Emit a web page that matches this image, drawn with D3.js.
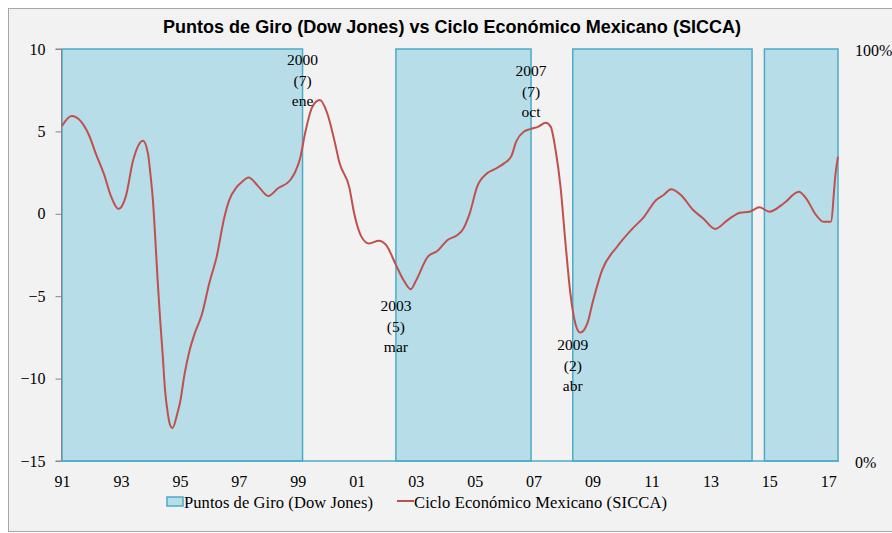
<!DOCTYPE html>
<html>
<head>
<meta charset="utf-8">
<script src="https://cdn.jsdelivr.net/npm/d3@7"></script>
<style>
	body { margin: 0; background: #fff; }
	text { font-family: "Liberation Serif", "Times New Roman", serif; fill: #000; }
</style>
</head>
<body>
<svg class="chart"></svg>
<script>
var cycleDates = ["1991-01","1991-05","1991-12","1992-03","1992-06","1992-09","1992-12","1993-03","1993-06","1993-10",
	"1993-12","1994-01","1994-02","1994-03","1994-04","1994-05","1994-06","1994-07","1994-08","1994-09",
	"1994-10","1994-12","1995-01","1995-03","1995-05","1995-07","1995-10","1996-01","1996-04","1996-07",
	"1996-09","1996-12","1997-02","1997-05","1997-09","1998-01","1998-05","1998-10","1998-12","1999-02",
	"1999-04","1999-07","1999-10","2000-01","2000-04","2000-06","2000-10","2000-12","2001-03","2001-06",
	"2001-10","2002-01","2002-05","2002-08","2002-11","2003-01","2003-06","2003-10","2004-02","2004-06",
	"2004-08","2004-11","2005-02","2005-06","2005-09","2006-01","2006-04","2006-06","2006-09","2006-12",
	"2007-03","2007-06","2007-08","2007-10","2007-12","2008-02","2008-04","2008-06","2008-08","2008-11",
	"2009-01","2009-05","2009-11","2010-05","2010-10","2011-03","2011-06","2011-09","2012-01","2012-06",
	"2012-10","2013-03","2013-08","2014-01","2014-05","2014-09","2015-01","2015-07","2016-01","2016-04",
	"2016-08","2016-11","2017-02","2017-04","2017-05"];
var cycleValues = [5.33,5.93,4.78,3.57,2.45,1.04,0.29,1.04,3.26,4.44,
	3.67,2.4,0.8,-1.4,-4.1,-6.4,-8.5,-10.7,-12.0,-12.8,
	-13.0,-12.1,-11.5,-9.7,-8.3,-7.3,-6.1,-4.2,-2.6,-0.3,
	0.8,1.6,1.9,2.2,1.65,1.08,1.55,2.05,2.55,3.4,
	4.88,6.5,6.9,6.1,4.4,3.1,1.6,0.0,-1.4,-1.8,
	-1.63,-1.9,-3.1,-4.0,-4.58,-4.1,-2.6,-2.24,-1.59,-1.29,
	-1.0,0.03,1.65,2.45,2.7,3.06,3.5,4.4,4.98,5.15,
	5.29,5.53,5.29,3.87,1.65,-1.79,-4.82,-6.64,-7.21,-6.6,
	-5.4,-3.4,-2.0,-0.95,-0.18,0.84,1.14,1.49,1.14,0.23,
	-0.27,-0.92,-0.38,0.07,0.13,0.39,0.13,0.64,1.34,0.94,
	-0.07,-0.48,-0.48,2.46,3.47];

// turning point periods (Dow Jones) shaded at 100%
var bandStarts = ["1991-01","2002-05","2008-05","2014-11"];
var bandEnds = ["1999-03","2006-12","2014-06","2017-05"];

var yTicks = [10, 5, 0, -5, -10, -15];
var pctTicks = [0, 100];
var xTickMonths = ["1991-01","1993-01","1995-01","1997-01","1999-01","2001-01","2003-01",
	"2005-01","2007-01","2009-01","2011-01","2013-01","2015-01","2017-01"];

// notes at the band edges
var noteDates = ["1999-03","2002-05","2006-12","2008-05"];
var noteLines = [["2000","(7)","ene"],["2003","(5)","mar"],["2007","(7)","oct"],["2009","(2)","abr"]];

var legendNames = ["Puntos de Giro (Dow Jones)", "Ciclo Económico Mexicano (SICCA)"];

window.onload = function() {

	var parse = d3.timeParse("%Y-%m");
	var serif = "'Liberation Serif', 'Times New Roman', serif";
	var W = 892, H = 533,
		left = 62, right = 838, top = 49, bottom = 461;

	var svg = d3.select(".chart")
		.attr("width", W)
		.attr("height", H);

	// chart area
	svg.append("rect")
		.attr("x", 8.5).attr("y", 8.5)
		.attr("width", W).attr("height", H - 10)
		.attr("fill", "#f2f2f2")
		.attr("stroke", "#a6a6a6");

	var x = d3.scaleTime()
		.domain([parse("1991-01"), parse("2017-05")])
		.range([left, right]);
	var y = d3.scaleLinear().domain([-15, 10]).range([bottom, top]);
	var yPct = d3.scaleLinear().domain([0, 100]).range([bottom + 1, top + 1]);

	// shaded bands
	svg.selectAll(".band")
		.data(bandStarts)
	  .enter().append("rect")
		.attr("class", "band")
		.attr("x", function(d) { return x(parse(d)); })
		.attr("y", y(10))
		.attr("width", function(d, i) { return x(parse(bandEnds[i])) - x(parse(d)); })
		.attr("height", y(-15) - y(10))
		.attr("fill", "#b7dde8")
		.attr("stroke", "#4bacc6")
		.attr("stroke-width", 1.5);

	svg.append("line")
		.attr("x1", left).attr("x2", right + 1)
		.attr("y1", bottom).attr("y2", bottom)
		.attr("stroke", "#4bacc6")
		.attr("stroke-width", 1.5);

	// axes
	var yAxis = svg.append("g")
		.attr("transform", "translate(" + (left - 0.5) + ",0)")
		.call(d3.axisLeft(y).tickValues(yTicks).tickSize(6).tickPadding(10).tickFormat(d3.format("d")))
		.attr("font-family", serif)
		.attr("font-size", 16);
	yAxis.selectAll("line, path").attr("stroke", "#868686");
	yAxis.select(".domain").attr("d", "M-6," + bottom + "H0V" + top + "H-6");

	var xAxis = svg.append("g")
		.attr("transform", "translate(0," + bottom + ")")
		.call(d3.axisBottom(x).tickValues(xTickMonths.map(parse)).tickSize(0).tickPadding(15)
			.tickFormat(d3.timeFormat("%y")))
		.attr("font-family", serif)
		.attr("font-size", 16);
	xAxis.select(".domain").remove();

	var pAxis = svg.append("g")
		.attr("transform", "translate(" + right + ",0)")
		.call(d3.axisRight(yPct).tickValues(pctTicks).tickSize(0).tickPadding(17)
			.tickFormat(function(d) { return d + "%"; }))
		.attr("font-family", serif)
		.attr("font-size", 16);
	pAxis.select(".domain").remove();

	// cycle line
	var data = cycleDates.map(function(d, i) { return {date: parse(d), value: cycleValues[i]}; });
	var line = d3.line()
		.x(function(d) { return x(d.date); })
		.y(function(d) { return y(d.value); })
		.curve(d3.curveMonotoneX);
	svg.append("path")
		.attr("d", line(data))
		.attr("fill", "none")
		.attr("stroke", "#c0504d")
		.attr("stroke-width", 2);

	// notes
	var noteBase = [65, 311, 76, 350];
	noteDates.forEach(function(d, i) {
		var t = svg.append("text")
			.attr("text-anchor", "middle")
			.style("font-size", "15.5px");
		noteLines[i].forEach(function(s, j) {
			t.append("tspan")
				.attr("x", x(parse(d)))
				.attr("y", noteBase[i] + j * 20.5)
				.text(s);
		});
	});

	// title
	svg.append("text")
		.attr("x", 452)
		.attr("y", 33)
		.attr("text-anchor", "middle")
		.attr("textLength", 578)
		.attr("lengthAdjust", "spacingAndGlyphs")
		.style("font-family", "'Liberation Sans Narrow', 'Liberation Sans', Arial, sans-serif")
		.style("font-weight", "bold")
		.style("font-size", "18px")
		.text("Puntos de Giro (Dow Jones) vs Ciclo Económico Mexicano (SICCA)");

	// legend
	var lg = svg.append("g");
	lg.append("rect")
		.attr("x", 167).attr("y", 497)
		.attr("width", 16).attr("height", 9)
		.attr("fill", "#b7dde8")
		.attr("stroke", "#4bacc6")
		.attr("stroke-width", 1.5);
	lg.append("text")
		.attr("x", 184).attr("y", 508)
		.attr("textLength", 189)
		.style("font-size", "16.5px")
		.text(legendNames[0]);
	lg.append("line")
		.attr("x1", 397).attr("x2", 414)
		.attr("y1", 501).attr("y2", 501)
		.attr("stroke", "#c0504d")
		.attr("stroke-width", 2);
	lg.append("text")
		.attr("x", 414).attr("y", 508)
		.attr("textLength", 253)
		.style("font-size", "16.5px")
		.text(legendNames[1]);
}
</script>
</body>
</html>
